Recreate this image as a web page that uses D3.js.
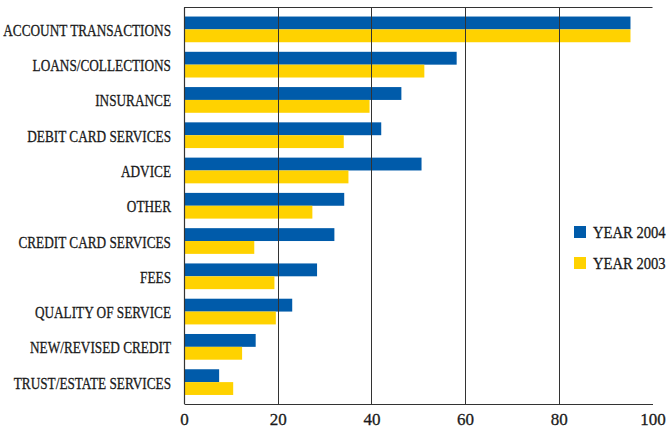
<!DOCTYPE html>
<html>
<head>
<meta charset="utf-8">
<script src="https://cdn.jsdelivr.net/npm/d3@7/dist/d3.min.js"></script>
<style>
  html, body { margin: 0; padding: 0; background: #fff; }
  svg { display: block; }
  text { font-family: "Liberation Serif", "DejaVu Serif", serif; fill: #1a1a1a; stroke: #1a1a1a; stroke-width: 0.3px; }
</style>
</head>
<body>
<svg id="chart" width="667" height="431"></svg>
<script>
const categories = [
  "ACCOUNT TRANSACTIONS",
  "LOANS/COLLECTIONS",
  "INSURANCE",
  "DEBIT CARD SERVICES",
  "ADVICE",
  "OTHER",
  "CREDIT CARD SERVICES",
  "FEES",
  "QUALITY OF SERVICE",
  "NEW/REVISED CREDIT",
  "TRUST/ESTATE SERVICES"
];
const year2004 = [95.3, 58.2, 46.4, 42.1, 50.7, 34.2, 32.1, 28.4, 23.1, 15.3, 7.5];
const year2003 = [95.3, 51.3, 39.6, 34.1, 35.1, 27.4, 15.0, 19.3, 19.6, 12.4, 10.5];
const seriesNames = ["YEAR 2004", "YEAR 2003"];
const seriesColors = ["#005BAA", "#FFD200"];
const tickValues = [0, 20, 40, 60, 80, 100];

(function () {
const svg = d3.select("#chart");
const mLeft = 184, mRight = 652.5, mTop = 7.5, mBottom = 404;

const x = d3.scaleLinear().domain([0, 100]).range([mLeft, mRight]);
const y = d3.scaleBand().domain(categories).range([mTop, mBottom])
  .paddingInner(0.271).paddingOuter(0.256);
const sub = d3.scaleBand().domain(seriesNames).range([0, y.bandwidth()]);

const data = categories.map((c, i) => ({ cat: c, vals: [year2004[i], year2003[i]] }));

// bars
const groups = svg.append("g").selectAll("g").data(data).join("g")
  .attr("transform", d => `translate(0,${y(d.cat)})`);
groups.selectAll("rect").data(d => d.vals.map((v, k) => ({ v, k })))
  .join("rect")
  .attr("x", x(0))
  .attr("y", d => sub(seriesNames[d.k]))
  .attr("width", d => x(d.v) - x(0))
  .attr("height", sub.bandwidth())
  .attr("fill", d => seriesColors[d.k]);

// grid lines
const gridColor = "#333";
svg.append("g").selectAll("line").data(tickValues.slice(1, -1)).join("line")
  .attr("x1", d => Math.round(x(d)) + 0.5).attr("x2", d => Math.round(x(d)) + 0.5)
  .attr("y1", mTop).attr("y2", mBottom)
  .attr("stroke", gridColor).attr("stroke-width", 1);

// frame: top, left
svg.append("line").attr("x1", mLeft).attr("x2", mRight).attr("y1", mTop).attr("y2", mTop)
  .attr("stroke", gridColor).attr("stroke-width", 1.2);
svg.append("line").attr("x1", mLeft + 0.5).attr("x2", mLeft + 0.5).attr("y1", mTop).attr("y2", mBottom)
  .attr("stroke", gridColor).attr("stroke-width", 1.2);

// bottom axis
const xAxis = d3.axisBottom(x).tickValues(tickValues).tickSize(0).tickPadding(9)
  .tickFormat(d3.format("d"));
const ax = svg.append("g").attr("transform", `translate(0,${mBottom})`).call(xAxis);
ax.select(".domain").attr("stroke", gridColor).attr("stroke-width", 1.2);
ax.selectAll("text").attr("font-size", 17).attr("font-family", "Liberation Serif, serif")
  .attr("fill", "#1a1a1a");

// category labels
svg.append("g").selectAll("g").data(categories).join("g")
  .attr("transform", d => `translate(171,${y(d) + y.bandwidth() / 2 + 6.5}) scale(0.78,1)`)
  .append("text")
  .attr("text-anchor", "end")
  .attr("font-size", 17)
  .text(d => d);

// legend
const legend = svg.append("g").selectAll("g").data(seriesNames).join("g")
  .attr("transform", (d, i) => `translate(574,${226 + i * 31})`);
legend.append("rect").attr("width", 12).attr("height", 12)
  .attr("fill", (d, i) => seriesColors[i]);
legend.append("g").attr("transform", "translate(19,12) scale(0.86,1)")
  .append("text").attr("font-size", 17).text(d => d);
})();
</script>
</body>
</html>
